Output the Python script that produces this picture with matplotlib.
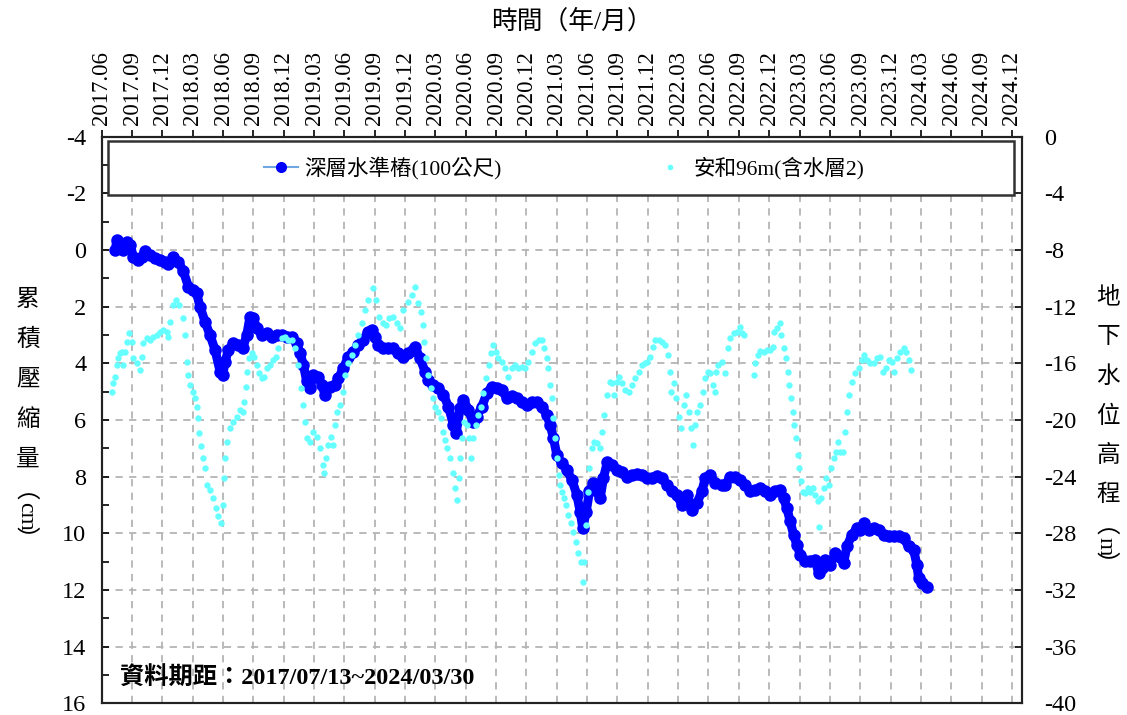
import matplotlib
matplotlib.use("Agg")
import matplotlib.pyplot as plt
from matplotlib.patches import Rectangle
from matplotlib.lines import Line2D
import numpy as np

FONT = ['Liberation Serif', 'Noto Sans CJK TC']
plt.rcParams['font.family'] = FONT

# ---------------- data (time as decimal year, month ticks at year+(m-1)/12) ----------------
blue_t = [2017.530, 2017.540, 2017.568, 2017.595, 2017.623, 2017.650, 2017.678, 2017.719, 2017.746, 2017.774,
          2017.815, 2017.856, 2017.897, 2017.938, 2017.966, 2018.007, 2018.048, 2018.090, 2018.131, 2018.172,
          2018.199, 2018.227, 2018.268, 2018.309, 2018.351, 2018.392, 2018.414, 2018.433, 2018.461, 2018.502,
          2018.543, 2018.579, 2018.612, 2018.639, 2018.667, 2018.694, 2018.735, 2018.777, 2018.818, 2018.859,
          2018.900, 2018.941, 2018.983, 2019.024, 2019.051, 2019.079, 2019.106, 2019.134, 2019.161, 2019.202,
          2019.230, 2019.257, 2019.299, 2019.340, 2019.367, 2019.408, 2019.450, 2019.491, 2019.532, 2019.573,
          2019.614, 2019.642, 2019.669, 2019.697, 2019.738, 2019.779, 2019.821, 2019.862, 2019.903, 2019.944,
          2019.985, 2019.999, 2020.040, 2020.081, 2020.109, 2020.150, 2020.191, 2020.233, 2020.274, 2020.315,
          2020.337, 2020.370, 2020.397, 2020.439, 2020.474, 2020.507, 2020.549, 2020.590, 2020.631, 2020.672,
          2020.714, 2020.755, 2020.796, 2020.837, 2020.878, 2020.920, 2020.961, 2021.002, 2021.043, 2021.084,
          2021.112, 2021.139, 2021.167, 2021.208, 2021.249, 2021.291, 2021.332, 2021.359, 2021.381, 2021.409,
          2021.436, 2021.469, 2021.497, 2021.524, 2021.551, 2021.584, 2021.620, 2021.661, 2021.703, 2021.744,
          2021.785, 2021.826, 2021.868, 2021.909, 2021.950, 2021.991, 2022.032, 2022.074, 2022.115, 2022.156,
          2022.197, 2022.238, 2022.280, 2022.321, 2022.362, 2022.390, 2022.431, 2022.472, 2022.527, 2022.554,
          2022.596, 2022.637, 2022.678, 2022.719, 2022.760, 2022.802, 2022.843, 2022.884, 2022.925, 2022.967,
          2023.008, 2023.035, 2023.063, 2023.090, 2023.118, 2023.145, 2023.173, 2023.214, 2023.255, 2023.296,
          2023.324, 2023.351, 2023.379, 2023.420, 2023.461, 2023.502, 2023.530, 2023.557, 2023.599, 2023.640,
          2023.667, 2023.695, 2023.736, 2023.777, 2023.818, 2023.860, 2023.901, 2023.942, 2023.983, 2024.024,
          2024.066, 2024.107, 2024.134, 2024.148, 2024.176, 2024.217]
blue_cm = [0.00, -0.35, -0.24, 0.00, -0.29, -0.18, 0.24, 0.35, 0.24, 0.04,
           0.18, 0.27, 0.35, 0.44, 0.49, 0.26, 0.41, 0.76, 1.29, 1.41,
           1.53, 2.00, 2.53, 3.00, 3.53, 4.29, 4.41, 3.94, 3.53, 3.29,
           3.35, 3.47, 3.00, 2.35, 2.41, 2.76, 3.00, 2.94, 3.06, 3.00,
           3.00, 3.06, 3.06, 3.29, 3.64, 4.06, 4.64, 4.88, 4.41, 4.47,
           4.76, 5.11, 4.82, 4.76, 4.53, 4.17, 3.76, 3.59, 3.35, 3.17,
           2.88, 2.82, 3.06, 3.35, 3.45, 3.45, 3.47, 3.64, 3.76, 3.64,
           3.53, 3.44, 3.82, 4.29, 4.59, 4.76, 4.88, 5.11, 5.53, 6.17,
           6.47, 5.59, 5.29, 5.64, 6.06, 5.88, 5.53, 5.06, 4.82, 4.86,
           4.94, 5.23, 5.17, 5.23, 5.35, 5.47, 5.35, 5.35, 5.53, 5.82,
           6.17, 6.64, 7.23, 7.53, 7.76, 8.11, 8.64, 9.23, 9.82, 9.23,
           8.52, 8.23, 8.52, 8.76, 8.05, 7.47, 7.58, 7.76, 7.82, 8.00,
           7.94, 7.91, 7.94, 8.05, 8.05, 7.96, 8.05, 8.29, 8.52, 8.64,
           8.99, 8.64, 9.17, 8.94, 8.52, 8.05, 7.94, 8.23, 8.29, 8.29,
           8.00, 8.00, 8.11, 8.29, 8.52, 8.47, 8.41, 8.52, 8.64, 8.52,
           8.47, 8.76, 9.11, 9.58, 10.05, 10.41, 10.76, 10.99, 10.99, 10.93,
           11.41, 11.23, 10.93, 11.11, 10.70, 10.82, 11.05, 10.46, 10.05, 9.82,
           9.88, 9.64, 9.88, 9.82, 9.88, 10.05, 10.11, 10.11, 10.11, 10.17,
           10.46, 10.58, 11.11, 11.58, 11.76, 11.88]

cyan_t = [2017.499, 2017.513, 2017.526, 2017.540, 2017.554, 2017.568, 2017.581, 2017.595, 2017.609, 2017.623,
          2017.645, 2017.664, 2017.678, 2017.705, 2017.732, 2017.746, 2017.760, 2017.787, 2017.815, 2017.842,
          2017.870, 2017.897, 2017.925, 2017.952, 2017.966, 2017.980, 2018.007, 2018.029, 2018.057, 2018.084,
          2018.103, 2018.117, 2018.131, 2018.145, 2018.167, 2018.186, 2018.199, 2018.208, 2018.219, 2018.232,
          2018.249, 2018.268, 2018.282, 2018.309, 2018.337, 2018.359, 2018.378, 2018.397, 2018.414, 2018.425,
          2018.436, 2018.452, 2018.474, 2018.502, 2018.529, 2018.557, 2018.579, 2018.592, 2018.603, 2018.617,
          2018.634, 2018.653, 2018.672, 2018.694, 2018.716, 2018.735, 2018.754, 2018.777, 2018.804, 2018.831,
          2018.853, 2018.873, 2018.900, 2018.927, 2018.955, 2018.983, 2019.010, 2019.038, 2019.057, 2019.073,
          2019.092, 2019.112, 2019.134, 2019.161, 2019.189, 2019.216, 2019.238, 2019.249, 2019.266, 2019.285,
          2019.304, 2019.326, 2019.340, 2019.359, 2019.381, 2019.403, 2019.422, 2019.450, 2019.477, 2019.505,
          2019.532, 2019.560, 2019.587, 2019.614, 2019.650, 2019.678, 2019.705, 2019.733, 2019.760, 2019.788,
          2019.815, 2019.848, 2019.876, 2019.903, 2019.944, 2019.972, 2019.999,
          2020.027, 2020.046, 2020.062, 2020.073, 2020.090, 2020.109, 2020.128, 2020.145, 2020.164, 2020.191,
          2020.211, 2020.227, 2020.246, 2020.266, 2020.288, 2020.310, 2020.329, 2020.343, 2020.359, 2020.370,
          2020.384, 2020.403, 2020.425, 2020.447, 2020.461, 2020.480, 2020.502, 2020.521, 2020.540, 2020.562,
          2020.584, 2020.604, 2020.626, 2020.645, 2020.667, 2020.686, 2020.714, 2020.741, 2020.768, 2020.796,
          2020.823, 2020.851, 2020.878, 2020.906, 2020.933, 2020.961, 2020.988, 2021.016, 2021.043, 2021.062,
          2021.084, 2021.098, 2021.112, 2021.126, 2021.139, 2021.153, 2021.167, 2021.181, 2021.194, 2021.208,
          2021.222, 2021.244, 2021.263, 2021.282, 2021.304, 2021.326, 2021.345, 2021.365, 2021.381, 2021.392,
          2021.406, 2021.420, 2021.436, 2021.455, 2021.475, 2021.497, 2021.519, 2021.538, 2021.557, 2021.579,
          2021.601, 2021.620, 2021.639, 2021.661, 2021.683, 2021.703, 2021.730, 2021.758, 2021.785, 2021.813,
          2021.840, 2021.868, 2021.895, 2021.914, 2021.936, 2021.958, 2021.977, 2022.005, 2022.032, 2022.060,
          2022.079, 2022.096, 2022.107, 2022.129, 2022.151, 2022.170, 2022.189, 2022.211, 2022.233, 2022.252,
          2022.271, 2022.288, 2022.307, 2022.326, 2022.348, 2022.370, 2022.390, 2022.409, 2022.431, 2022.453,
          2022.472, 2022.480, 2022.499,
          2022.527, 2022.554, 2022.574, 2022.596, 2022.623, 2022.651, 2022.673, 2022.692, 2022.706,
          2022.788, 2022.802, 2022.821, 2022.843, 2022.870, 2022.898, 2022.925, 2022.947, 2022.958, 2022.980,
          2023.002, 2023.016, 2023.035, 2023.055, 2023.071, 2023.082, 2023.096, 2023.109, 2023.123, 2023.137,
          2023.151, 2023.164, 2023.178, 2023.195, 2023.214, 2023.233, 2023.255, 2023.277, 2023.296, 2023.316,
          2023.329, 2023.346, 2023.365, 2023.387, 2023.406, 2023.425, 2023.447, 2023.467, 2023.483, 2023.502,
          2023.522, 2023.538, 2023.557, 2023.577, 2023.599, 2023.626, 2023.654, 2023.681, 2023.700, 2023.722,
          2023.750, 2023.777, 2023.805, 2023.832, 2023.854, 2023.879, 2023.901, 2023.928, 2023.947, 2023.969,
          2023.997, 2024.024, 2024.046, 2024.066, 2024.085]
cyan_m = [-17.99, -17.41, -16.94, -16.11, -15.64, -15.29, -15.17, -16.11, -15.17, -14.47,
          -13.88, -14.47, -15.64, -16.00, -16.47, -15.53, -14.58, -14.23, -14.35, -14.11,
          -14.00, -13.76, -13.64, -13.76, -14.11, -13.06, -11.88, -11.53, -11.88, -12.82,
          -14.00, -15.88, -16.82, -17.52, -17.99, -18.46, -19.05, -19.88, -20.93, -21.87,
          -22.70, -23.40, -24.58, -24.93, -25.52, -26.22, -26.81, -27.28, -25.99, -24.11,
          -22.70, -21.52, -20.58, -20.11, -19.76, -19.29, -19.41, -18.70, -17.64, -16.58,
          -15.64, -15.29, -15.53, -16.11, -16.70, -17.05, -16.94, -16.35, -16.11, -15.76,
          -15.53, -14.94, -14.23, -14.11, -14.35, -14.35, -14.94, -16.11, -17.76, -18.93,
          -20.11, -21.29, -21.52, -20.82, -21.17, -21.99, -23.17, -23.76, -22.70, -21.76,
          -21.17, -21.76, -20.35, -19.41, -18.93, -17.99, -16.82, -16.00, -15.41, -14.70,
          -14.00, -13.17, -12.23, -11.53, -10.70, -11.53, -12.70, -13.17, -13.29, -12.82,
          -12.70, -13.17, -13.53, -12.23, -11.64, -11.17, -10.59,
          -11.76, -12.35, -13.29, -14.47, -15.64, -16.82, -17.76, -18.46, -19.05, -19.41,
          -19.88, -20.82, -21.40, -21.99, -22.70, -23.76, -24.81, -25.64, -24.11, -22.70,
          -21.29, -20.11, -20.35, -21.29, -22.70, -21.29, -20.35, -19.64, -19.05, -18.11,
          -17.05, -16.11, -15.29, -14.70, -15.17, -15.64, -15.88, -16.35, -16.94, -16.35,
          -16.11, -16.35, -16.23, -16.35, -15.88, -15.17, -14.58, -14.35, -14.35, -14.94,
          -15.64, -16.35, -17.52, -18.46, -19.88, -21.29, -22.70, -23.87, -24.58, -25.05,
          -25.52, -25.99, -26.70, -27.28, -27.87, -28.58, -29.40, -29.99, -31.40, -29.99,
          -27.40, -25.05, -23.40, -21.99, -21.52, -21.64, -21.99, -20.82, -19.64, -18.23,
          -17.29, -17.41, -18.23, -17.29, -16.94, -17.41, -17.88, -17.99, -17.52, -17.05,
          -16.58, -16.11, -16.00, -15.88, -15.53, -14.82, -14.35, -14.35, -14.47, -14.70,
          -15.41, -16.58, -17.99, -17.41, -18.46, -19.76, -20.58, -18.93, -18.23, -19.41,
          -20.58, -21.76, -20.35, -19.41, -18.93, -17.99, -17.05, -16.58, -16.70, -17.52,
          -17.99, -16.58, -16.11,
          -15.88, -16.70, -14.94, -14.23, -13.88, -13.76, -13.41, -13.88, -14.00,
          -16.82, -16.00, -15.41, -15.13, -15.17, -15.05, -15.05, -14.82, -13.76, -13.53,
          -13.17, -14.00, -14.94, -15.64, -16.58, -17.52, -18.46, -19.41, -20.35, -21.29,
          -22.46, -23.40, -24.34, -25.05, -25.17, -24.81, -25.05, -24.81, -25.28, -25.75,
          -27.52, -25.52, -24.81, -24.11, -24.58, -23.40, -22.70, -22.23, -21.52, -22.23,
          -22.23, -20.82, -19.41, -18.23, -17.29, -16.70, -16.35, -15.76, -15.41, -15.76,
          -16.00, -16.00, -15.64, -15.53, -16.58, -16.35, -15.76, -15.88, -16.58, -15.64,
          -15.17, -14.94, -15.17, -15.76, -16.47]

series_labels = ['深層水準樁(100公尺)', '安和96m(含水層2)']
tick_years_months = [(y, m) for y in range(2017, 2025) for m in (3, 6, 9, 12)
                     if (y, m) >= (2017, 6)]
tick_pos = [y + (m - 1) / 12 for y, m in tick_years_months]
tick_labels = [f"{y}.{m:02d}" for y, m in tick_years_months]

BLUE = '#0000ff'
BLUE_LINE = '#6fa8e0'
CYAN = '#66ffff'

# ---------------- figure ----------------
W, H = 1127, 715
fig = plt.figure(figsize=(W / 100, H / 100), dpi=100)
L, R, T, B = 101.7, 1022.0, 136.6, 703.4
ax = fig.add_axes([L / W, 1 - B / H, (R - L) / W, (B - T) / H])

ax.set_xlim(2017 + 5 / 12, 2025.0)
ax.set_ylim(16, -4)
ax.set_yticks(np.arange(-4, 17, 2))
ax.set_yticks(np.arange(-4, 17, 1), minor=True)
ax.set_yticklabels([f"{v:d}" for v in range(-4, 17, 2)])
ax.tick_params(axis='y', which='both', direction='in', left=True, right=False,
               length=5, width=1.2, labelsize=17.5, pad=11)

ax.xaxis.tick_top()
ax.set_xticks(tick_pos)
ax.set_xticklabels(tick_labels, rotation=90)
ax.tick_params(axis='x', which='major', direction='out', top=True, bottom=False,
               length=5, width=1.2, labelsize=16.5, pad=3)
ax.xaxis.set_minor_locator(matplotlib.ticker.NullLocator())

ax.grid(True, which='major', linestyle=(0, (4, 3.5)), color='#b4b4b4', linewidth=1.3)
ax.set_axisbelow(True)
for s in ax.spines.values():
    s.set_linewidth(1.5)
    s.set_color('#222222')

# blue series: dense markers forming a thick band
ax.plot(blue_t, blue_cm, '-', color=BLUE, lw=6.5, solid_joinstyle='round',
        solid_capstyle='round', zorder=2.9)
ax.plot(blue_t, blue_cm, 'o', ms=8, mfc=BLUE, mec=BLUE, zorder=3)

ax2 = ax.twinx()
ax2.set_ylim(-40, 0)
ax2.set_yticks(np.arange(-40, 1, 4))
ax2.set_yticklabels([f"{v:d}" for v in range(-40, 1, 4)])
ax2.tick_params(axis='y', direction='in', length=5, width=1.2, labelsize=17.5, pad=16)
for s in ax2.spines.values():
    s.set_linewidth(1.5)
    s.set_color('#222222')

ax2.plot(cyan_t, cyan_m, 'o', ms=4.6, color=CYAN, mec='none', zorder=3)

# legend box
bx0 = (108 - L) / (R - L)
bx1 = (1014 - L) / (R - L)
by0 = (B - 195) / (B - T)
by1 = (B - 141) / (B - T)
ax2.add_patch(Rectangle((bx0, by0), bx1 - bx0, by1 - by0, transform=ax2.transAxes,
                        facecolor='white', edgecolor='#333333', lw=1.8, zorder=5))
handles = [Line2D([], [], color=BLUE_LINE, lw=1.5, marker='o', ms=7, mfc=BLUE, mec=BLUE),
           Line2D([], [], ls='none', marker='o', ms=4, color=CYAN, mec='none')]
leg = ax2.legend(handles, series_labels, loc='center',
                 bbox_to_anchor=((564 - L) / (R - L), (B - 168) / (B - T)),
                 ncol=2, frameon=False, fontsize=15.5, columnspacing=7.0,
                 handlelength=1.6, handletextpad=0.3, borderaxespad=0)
leg.set_zorder(6)

# data period text
ax2.text((120 - L) / (R - L), (B - 678) / (B - T), '資料期距：2017/07/13~2024/03/30',
         transform=ax2.transAxes, fontsize=17.5, fontweight='bold', ha='left', va='center',
         family=FONT, zorder=6)

# title on top
fig.text(572 / W, 1 - 21 / H, '時間（年/月）', ha='center', va='center', fontsize=18.5, family=FONT)


def vertical_label(x, y0, step, chars, unit, unit_len):
    """Stack CJK characters vertically, then a rotated unit in vertical parentheses."""
    y = y0
    for ch in chars:
        fig.text(x / W, 1 - y / H, ch, ha='center', va='center', fontsize=17, family=FONT)
        y += step
    y += -8
    fig.text(x / W, 1 - y / H, '︵', ha='center', va='center', fontsize=17,
             family=['Noto Sans CJK TC'])
    y += 10 + unit_len / 2
    fig.text(x / W, 1 - y / H, unit, ha='center', va='center_baseline', fontsize=17,
             rotation=-90, rotation_mode='anchor', family=['Liberation Serif'])
    y += unit_len / 2 + 10
    fig.text(x / W, 1 - y / H, '︶', ha='center', va='center', fontsize=17,
             family=['Noto Sans CJK TC'])


vertical_label(28, 300, 40, '累積壓縮量', 'cm', 29)
vertical_label(1108, 298, 39.5, '地下水位高程', 'm', 19)

fig.savefig('out.png', dpi=100)
